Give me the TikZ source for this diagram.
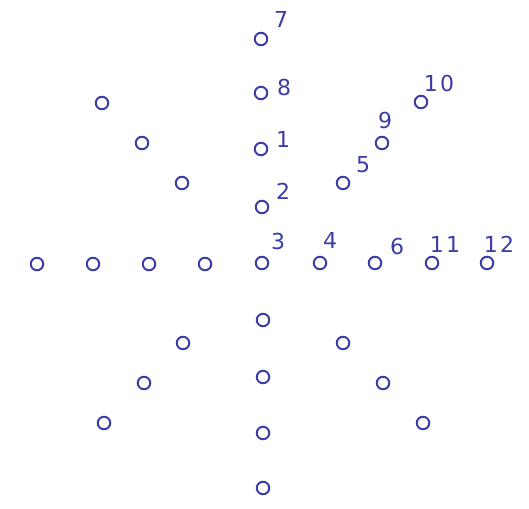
\documentclass[tikz,border=0pt]{standalone}
\usepackage{fontspec}
\setmainfont{DejaVu Sans}
\definecolor{plotblue}{RGB}{58,62,165}
\newcommand{\dg}{\kern2.5pt}
\begin{document}
\begin{tikzpicture}[x=1pt,y=-1pt,
  pt/.style={circle,draw=plotblue,line width=2pt,minimum size=12.5pt,inner sep=0pt},
  num/.style={text=plotblue,font=\fontsize{22}{22}\selectfont,inner sep=0pt}]
\useasboundingbox (0,0) rectangle (529,508);
% vertical column
\node[pt] (c7) at (261,39) {};
\node[pt] (c8) at (261,93) {};
\node[pt] (c1) at (261,149) {};
\node[pt] (c2) at (262,207) {};
\node[pt] (c3) at (262,263) {};
\node[pt] (d1) at (263,320) {};
\node[pt] (d2) at (263,377) {};
\node[pt] (d3) at (263,433) {};
\node[pt] (d4) at (263,488) {};
% horizontal row
\node[pt] (w4) at (37,264) {};
\node[pt] (w3) at (93,264) {};
\node[pt] (w2) at (149,264) {};
\node[pt] (w1) at (205,264) {};
\node[pt] (c4) at (320,263) {};
\node[pt] (c6) at (375,263) {};
\node[pt] (c11) at (432,263) {};
\node[pt] (c12) at (487,263) {};
% diagonals
\node[pt] (nw1) at (182,183) {};
\node[pt] (nw2) at (142,143) {};
\node[pt] (nw3) at (102,103) {};
\node[pt] (c5) at (343,183) {};
\node[pt] (c9) at (382,143) {};
\node[pt] (c10) at (421,102) {};
\node[pt] (sw1) at (183,343) {};
\node[pt] (sw2) at (144,383) {};
\node[pt] (sw3) at (104,423) {};
\node[pt] (se1) at (343,343) {};
\node[pt] (se2) at (383,383) {};
\node[pt] (se3) at (423,423) {};
% labels
\node[num] (l7) at (281,19) {7};
\node[num] (l8) at (284,87) {8};
\node[num] (l1) at (283,139) {1};
\node[num] (l2) at (283,191) {2};
\node[num] (l3) at (278,241) {3};
\node[num] (l4) at (330,240) {4};
\node[num] (l6) at (397,246) {6};
\node[num] (l11) at (445,244) {1\dg 1};
\node[num] (l12) at (499,244) {1\dg 2};
\node[num] (l10) at (439,83) {1\dg 0};
\node[num] (l9) at (385,120) {9};
\node[num] (l5) at (363,165) {5};
\end{tikzpicture}
\end{document}
